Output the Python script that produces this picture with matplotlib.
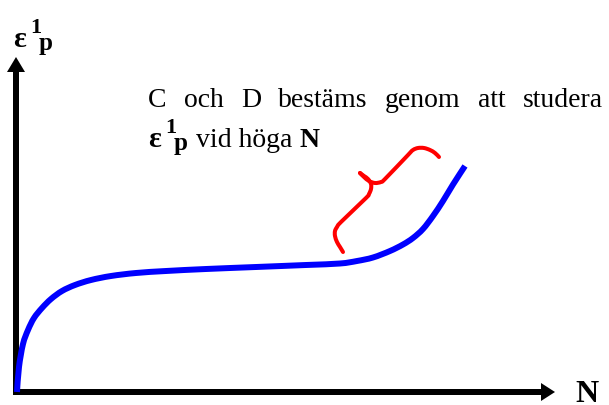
#!/usr/bin/env python3
# sketch of permanent strain growth with load cycles
import numpy as np
import matplotlib.pyplot as plt
from matplotlib.path import Path
from matplotlib.patches import PathPatch

N_curve = [1, 3, 7, 12, 18, 26, 35, 46, 59, 75, 95, 120, 150, 190, 240,
           290, 324, 341, 357, 374, 387, 397, 407, 417, 427, 437, 449]
eps_curve = [0, 25, 48, 62, 74, 84, 93, 101, 107, 112, 116, 119, 121, 123,
             125, 127, 128.5, 131, 134.5, 141, 147.5, 154, 163, 176, 191,
             207.5, 226]

# red curly bracket, two halves meeting in the middle point
N_brace_lo = [327, 324, 321, 319, 319, 321, 325, 350, 353, 355, 355, 352, 348, 344]
eps_brace_lo = [140, 145, 150, 156, 161, 165, 170, 194, 198, 203, 208, 213, 216, 219]
N_brace_hi = [344, 348, 353, 359, 365, 369, 392, 397, 402, 408, 414, 419, 423]
eps_brace_hi = [219, 215, 211, 209, 210, 213, 237, 242, 244, 244, 242, 239, 235]

line1 = "C och D bestäms genom att studera"
line2 = "vid höga "

serif = "Liberation Serif"


def smooth_path(xs, ys):
    # cubic bezier through every point (catmull-rom tangents)
    p = np.column_stack([xs, ys]).astype(float)
    ext = np.vstack([p[0], p, p[-1]])
    verts = [p[0]]
    codes = [Path.MOVETO]
    for i in range(len(p) - 1):
        c1 = ext[i + 1] + (ext[i + 2] - ext[i]) / 6
        c2 = ext[i + 2] - (ext[i + 3] - ext[i + 1]) / 6
        verts += [c1, c2, p[i + 1]]
        codes += [Path.CURVE4] * 3
    return Path(verts, codes)


fig = plt.figure(figsize=(6.09, 4.06), dpi=100)
ax = fig.add_axes([0, 0, 1, 1])
ax.set_xlim(-16, 593)
ax.set_ylim(-13, 393)
ax.axis("off")

# axes as thick arrows (1 data unit == 1 px here)
ax.arrow(-3, 0, 542, 0, width=6, head_width=18, head_length=14,
         length_includes_head=True, fc="black", ec="none")
ax.arrow(0, -3, 0, 338, width=6, head_width=18, head_length=15,
         length_includes_head=True, fc="black", ec="none")

ax.add_patch(PathPatch(smooth_path(N_curve, eps_curve), fill=False,
                       ec="#0000ff", lw=4.3, capstyle="butt", zorder=3))
for xs, ys in [(N_brace_lo, eps_brace_lo), (N_brace_hi, eps_brace_hi)]:
    ax.add_patch(PathPatch(smooth_path(xs, ys), fill=False, ec="#ff0000",
                           lw=2.9, capstyle="round", joinstyle="round", zorder=3))


def eps_label(x, y):
    # bold epsilon with superscript 1 and subscript p
    ax.text(x, y, "ε", family=serif, weight="bold", fontsize=21.5, va="baseline")
    ax.text(x + 17, y + 14, "1", family=serif, weight="bold", fontsize=16, va="baseline")
    ax.text(x + 26, y - 3, "p", family=serif, weight="bold", fontsize=18, va="baseline")


eps_label(-3, 346)
ax.text(559, -9, "N", family=serif, weight="bold", fontsize=23, va="baseline")

# first line justified between x=132 and x=587
words = line1.split()
objs = [ax.text(0, 286, w, family=serif, fontsize=20, va="baseline") for w in words]
fig.canvas.draw()
r = fig.canvas.get_renderer()
widths = [o.get_window_extent(r).width for o in objs]
gap = (587 - 132 - sum(widths)) / (len(words) - 1)
x = 132
for o, w in zip(objs, widths):
    o.set_x(x)
    x += w + gap

eps_label(132, 246)
t = ax.text(180, 246, line2, family=serif, fontsize=20, va="baseline")
fig.canvas.draw()
w2 = t.get_window_extent(r).width
ax.text(180 + w2, 246, "N", family=serif, weight="bold", fontsize=20, va="baseline")

fig.savefig("out.png", dpi=100)
